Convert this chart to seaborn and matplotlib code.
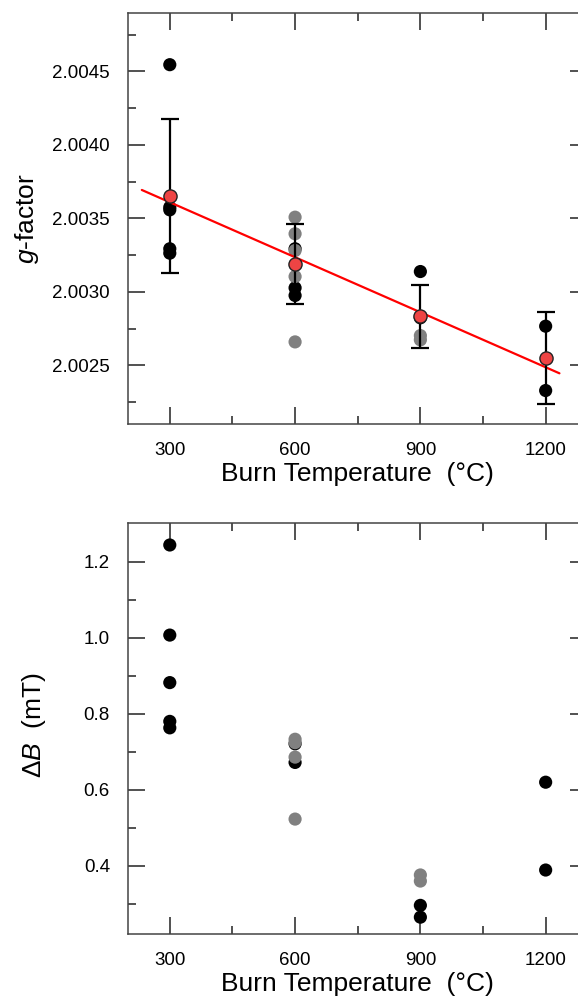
import numpy as np
import pandas as pd
import matplotlib
matplotlib.use("Agg")
import matplotlib.pyplot as plt
from matplotlib.ticker import FixedLocator, FormatStrFormatter
import seaborn as sns

# ---------------- data ----------------
temps = [300, 600, 900, 1200]

# g-factor, black points (per temperature)
g_black_300 = [2.004546, 2.003576, 2.003558, 2.003293, 2.003263]
g_black_600 = [2.003293, 2.003027, 2.002975]
g_black_900 = [2.003138, 2.002823]
g_black_1200 = [2.002766, 2.002328]
# g-factor, gray points
g_gray_600 = [2.003508, 2.003395, 2.003281, 2.003104, 2.002659]
g_gray_900 = [2.002702, 2.002673]

# mean and error bar half-widths
g_mean = [2.003649, 2.003189, 2.002834, 2.002550]
g_err = [0.000524, 0.000275, 0.000214, 0.000311]

# linear fit
fit_slope = -1.248e-6
fit_intercept = 2.003984
fit_range = [233, 1233]

# line width Delta B (mT)
db_black_300 = [1.244, 1.007, 0.882, 0.780, 0.763]
db_black_600 = [0.721, 0.672]
db_black_900 = [0.296, 0.265]
db_black_1200 = [0.620, 0.389]
db_gray_600 = [0.733, 0.724, 0.686, 0.523]
db_gray_900 = [0.376, 0.360]

g_ticks = [2.0025, 2.0030, 2.0035, 2.0040, 2.0045]
g_minor = [2.00225, 2.00275, 2.00325, 2.00375, 2.00425, 2.00475]
db_ticks = [0.4, 0.6, 0.8, 1.0, 1.2]
db_minor = [0.3, 0.5, 0.7, 0.9, 1.1]
x_ticks = [300, 600, 900, 1200]
x_minor = [450, 750, 1050]

# ---------------- frames ----------------
def frame(values_by_temp, kind):
    rows = []
    for t, vals in values_by_temp:
        for v in vals:
            rows.append({"temp": t, "val": v, "kind": kind})
    return rows

g_df = pd.DataFrame(
    frame([(300, g_black_300), (600, g_black_600), (900, g_black_900), (1200, g_black_1200)], "black")
    + frame([(600, g_gray_600), (900, g_gray_900)], "gray")
)
db_df = pd.DataFrame(
    frame([(300, db_black_300), (600, db_black_600), (900, db_black_900), (1200, db_black_1200)], "black")
    + frame([(600, db_gray_600), (900, db_gray_900)], "gray")
)
mean_df = pd.DataFrame({"temp": temps, "val": g_mean, "err": g_err})
fit_x = np.array(fit_range, dtype=float)
fit_df = pd.DataFrame({"temp": fit_x, "val": fit_intercept + fit_slope * fit_x})

# ---------------- style ----------------
sns.set_style("ticks")
plt.rcParams["font.family"] = ["Liberation Sans", "DejaVu Sans"]
plt.rcParams["mathtext.fontset"] = "custom"
plt.rcParams["mathtext.it"] = "Liberation Sans:italic"
plt.rcParams["mathtext.rm"] = "Liberation Sans"
plt.rcParams["text.color"] = "black"
plt.rcParams["axes.labelcolor"] = "black"

palette = {"black": "black", "gray": "#808080"}
tick_col = "#333333"

fig = plt.figure(figsize=(5.78, 10.06), dpi=100)
ax1 = fig.add_axes([0.2215, 0.5785, 0.7948, 0.4089])
ax2 = fig.add_axes([0.2215, 0.0713, 0.7948, 0.4085])

# top: g-factor
sns.scatterplot(data=g_df, x="temp", y="val", hue="kind", palette=palette,
                s=90, edgecolor="none", legend=False, ax=ax1, zorder=2)
sns.lineplot(data=fit_df, x="temp", y="val", color="red", lw=1.6, ax=ax1, zorder=3)
ax1.errorbar(mean_df["temp"], mean_df["val"], yerr=mean_df["err"], fmt="none",
             ecolor="black", elinewidth=1.6, capsize=6.5, capthick=1.6, zorder=4)
sns.scatterplot(data=mean_df, x="temp", y="val", color="#ee4444", edgecolor="#222222",
                linewidth=1.0, s=90, legend=False, ax=ax1, zorder=5)

# bottom: Delta B
sns.scatterplot(data=db_df, x="temp", y="val", hue="kind", palette=palette,
                s=90, edgecolor="none", legend=False, ax=ax2, zorder=2)

for ax in (ax1, ax2):
    ax.set_xlim(200, 1300)
    ax.xaxis.set_major_locator(FixedLocator(x_ticks))
    ax.xaxis.set_minor_locator(FixedLocator(x_minor))
    ax.tick_params(which="both", direction="in", top=True, right=True,
                   color=tick_col, width=1.2, labelsize=13.5, pad=13,
                   labelcolor="black")
    ax.tick_params(which="major", length=12)
    ax.tick_params(which="minor", length=5.8)
    for sp in ax.spines.values():
        sp.set_visible(True)
        sp.set_color("#444444")
        sp.set_linewidth(1.1)
    ax.set_xlabel("Burn Temperature  (\u00b0C)", fontsize=19, labelpad=2)

ax1.set_ylim(2.0021, 2.0049)
ax1.yaxis.set_major_locator(FixedLocator(g_ticks))
ax1.yaxis.set_minor_locator(FixedLocator(g_minor))
ax1.yaxis.set_major_formatter(FormatStrFormatter("%.4f"))
ax1.set_ylabel(r"$g$-factor", fontsize=19)
ax1.yaxis.set_label_coords(-0.19, 0.5)

ax2.set_ylim(0.22, 1.301)
ax2.yaxis.set_major_locator(FixedLocator(db_ticks))
ax2.yaxis.set_minor_locator(FixedLocator(db_minor))
ax2.yaxis.set_major_formatter(FormatStrFormatter("%.1f"))
ax2.set_ylabel("\u0394$B$  (mT)", fontsize=19)
ax2.yaxis.set_label_coords(-0.175, 0.51)

fig.savefig("out.png", dpi=100)
